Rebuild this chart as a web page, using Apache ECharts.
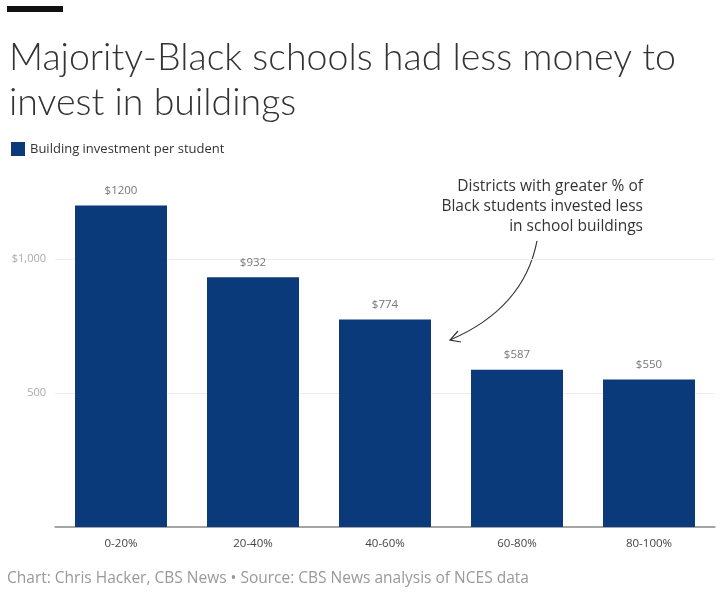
<!DOCTYPE html>
<html>
<head>
<meta charset="utf-8">
<script src="https://cdn.jsdelivr.net/npm/echarts@6/dist/echarts.min.js"></script>
<style>
  html, body { margin: 0; padding: 0; background: #fff; }
  #main { width: 720px; height: 602px; }
</style>
</head>
<body>
<div id="main"></div>
<script>
var categories = ['0-20%', '20-40%', '40-60%', '60-80%', '80-100%'];
var investment = [1200, 932, 774, 587, 550];
var yTicks = [500, 1000];

var chart = echarts.init(document.getElementById('main'));

var option = {
  backgroundColor: '#ffffff',
  animation: false,
  textStyle: { fontFamily: 'Open Sans' },
  title: {
    text: 'Majority-Black schools had less money to\ninvest in buildings',
    left: 4,
    top: 30,
    textStyle: {
      fontFamily: 'Lato',
      fontWeight: 300,
      fontSize: 37.5,
      lineHeight: 45,
      color: '#333'
    }
  },
  legend: {
    left: 6,
    top: 137,
    itemWidth: 14,
    itemHeight: 14,
    itemGap: 6,
    icon: 'rect',
    textStyle: { fontFamily: 'Open Sans', fontSize: 13, color: '#333' },
    data: ['Building investment per student']
  },
  grid: {
    left: 55,
    right: 5,
    top: 192,
    bottom: 75
  },
  xAxis: {
    type: 'category',
    data: categories,
    axisLine: { lineStyle: { color: '#888', width: 1.5 } },
    axisTick: { show: false },
    axisLabel: { color: '#444', fontSize: 11.5, margin: 11 }
  },
  yAxis: {
    type: 'value',
    min: 0,
    max: 1250,
    interval: 500,
    axisLine: { show: false },
    axisTick: { show: false },
    axisLabel: {
      color: '#aaa',
      fontSize: 11,
      margin: 9,
      formatter: function (v) {
        if (yTicks.indexOf(v) < 0) return '';
        return v >= 1000 ? '$' + v.toLocaleString('en-US') : String(v);
      }
    },
    splitLine: {
      lineStyle: { color: ['transparent', '#ececec', '#ececec', 'transparent'] }
    }
  },
  series: [{
    name: 'Building investment per student',
    type: 'bar',
    data: investment,
    barWidth: 92,
    itemStyle: { color: '#0b3a7a' },
    label: {
      show: true,
      position: 'top',
      distance: 9,
      color: '#777',
      fontSize: 11.5,
      formatter: '${c}'
    }
  }],
  graphic: [
    {
      type: 'rect',
      shape: { x: 7, y: 6, width: 56, height: 6 },
      style: { fill: '#111' }
    },
    {
      type: 'text',
      x: 643,
      y: 177,
      style: {
        text: 'Districts with greater % of\nBlack students invested less\nin school buildings',
        align: 'right',
        fontFamily: 'Open Sans',
        fontSize: 15.5,
        lineHeight: 20,
        fill: '#333'
      }
    },
    {
      type: 'bezierCurve',
      shape: { x1: 537, y1: 241, cpx1: 527, cpy1: 292, cpx2: 492, cpy2: 322, x2: 450, y2: 340 },
      style: { stroke: '#333', lineWidth: 1.2, fill: null }
    },
    {
      type: 'polyline',
      shape: { points: [[458, 331], [450, 340], [461, 342]] },
      style: { stroke: '#333', lineWidth: 1.2, fill: null }
    },
    {
      type: 'text',
      x: 7,
      y: 571,
      style: {
        text: 'Chart: Chris Hacker, CBS News \u2022 Source: CBS News analysis of NCES data',
        fontFamily: 'Open Sans',
        fontSize: 15.5,
        fill: '#999'
      }
    }
  ]
};

chart.setOption(option);
</script>
</body>
</html>
